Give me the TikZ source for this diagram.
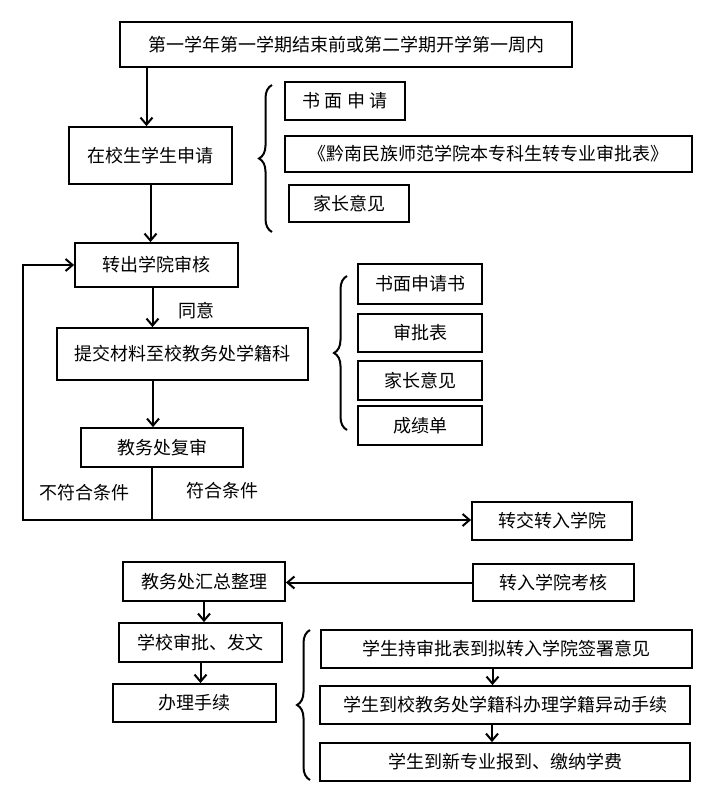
\documentclass[tikz,border=0pt]{standalone}
\usepackage{fontspec}
\newfontfamily\cjk{Noto Sans CJK SC}
\usetikzlibrary{arrows.meta,decorations.pathreplacing}
\begin{document}
\begin{tikzpicture}[x=1pt,y=-1pt,
  box/.style={draw,line width=1.8pt,inner sep=0pt,font=\cjk\fontsize{18}{20}\selectfont},
  lbl/.style={inner sep=0pt,font=\cjk\fontsize{18}{20}\selectfont},
  arr/.style={line width=2pt,-{Straight Barb[length=7pt,width=12pt,line width=2pt]}},
  ln/.style={line width=2pt},
  brc/.style={line width=2pt,decorate,decoration={brace,amplitude=13pt}}]
\useasboundingbox (0,0) rectangle (701,785);
\node[box,minimum width=452,minimum height=45] (A) at (346,44.5) {第一学年第一学期结束前或第二学期开学第一周内};
\node[box,minimum width=163,minimum height=57] (B) at (150.5,155.5) {在校生学生申请};
\node[box,minimum width=120,minimum height=38] (R1) at (345,101) {书 面 申 请};
\node[box,minimum width=407,minimum height=36] (R2) at (488.5,154) {《黔南民族师范学院本专科生转专业审批表》};
\node[box,minimum width=120,minimum height=37] (R3) at (349,203.5) {家长意见};
\node[box,minimum width=163,minimum height=44] (C) at (156.5,265) {转出学院审核};
\node[box,minimum width=251,minimum height=52] (D) at (182.5,354) {提交材料至校教务处学籍科};
\node[box,minimum width=124,minimum height=40] (S1) at (420,284) {书面申请书};
\node[box,minimum width=124,minimum height=38] (S2) at (420,333) {审批表};
\node[box,minimum width=124,minimum height=39] (S3) at (420,380.5) {家长意见};
\node[box,minimum width=124,minimum height=39] (S4) at (420,425.5) {成绩单};
\node[box,minimum width=162,minimum height=39] (E) at (162,447.5) {教务处复审};
\node[box,minimum width=160,minimum height=38] (F) at (552,521) {转交转入学院};
\node[box,minimum width=161,minimum height=37] (G) at (553.5,582.5) {转入学院考核};
\node[box,minimum width=162,minimum height=39] (H) at (204,581.5) {教务处汇总整理};
\node[box,minimum width=163,minimum height=39] (I) at (200.5,642.5) {学校审批、发文};
\node[box,minimum width=163,minimum height=38] (J) at (194.5,703) {办理手续};
\node[box,minimum width=371,minimum height=38] (K1) at (506.5,649) {学生持审批表到拟转入学院签署意见};
\node[box,minimum width=370,minimum height=38] (K2) at (505,705) {学生到校教务处学籍科办理学籍异动手续};
\node[box,minimum width=370,minimum height=38] (K3) at (505,762) {学生到新专业报到、缴纳学费};
\node[lbl] (l1) at (196,311) {同意};
\node[lbl] (l2) at (84,493) {不符合条件};
\node[lbl] (l3) at (222,491) {符合条件};
% braces
\draw[brc] (272,232) -- (272,85);
\draw[brc] (347,430) -- (347,276);
\draw[brc] (310,780) -- (310,630);
% connectors
\draw[arr] ([xshift=-4pt]B.north |- A.south) -- ([xshift=-4pt]B.north);
\draw[arr] (B.south) -- (B.south |- C.north);
\draw[arr] ([xshift=-4pt]C.south) -- ([xshift=-4pt]C.south |- D.north);
\draw[arr] ([xshift=-9pt]E.north |- D.south) -- ([xshift=-9pt]E.north);
\coordinate (j) at (152,520);
\coordinate (lc) at (23,520);
\draw[ln] ([xshift=-10pt]E.south) -- (j);
\draw[arr] (j) -- (lc) -- (lc |- C.west) -- (C.west);
\draw[arr] (j) -- (j -| F.west);
\draw[arr] (G.west) -- (G.west -| H.east);
\draw[arr] (H.south) -- (H.south |- I.north);
\draw[arr] (I.south) -- (I.south |- J.north);
\draw[arr] ([xshift=-14pt]K1.south) -- ([xshift=-14pt]K1.south |- K2.north);
\draw[arr] ([xshift=-13pt]K2.south) -- ([xshift=-13pt]K2.south |- K3.north);
\end{tikzpicture}
\end{document}
